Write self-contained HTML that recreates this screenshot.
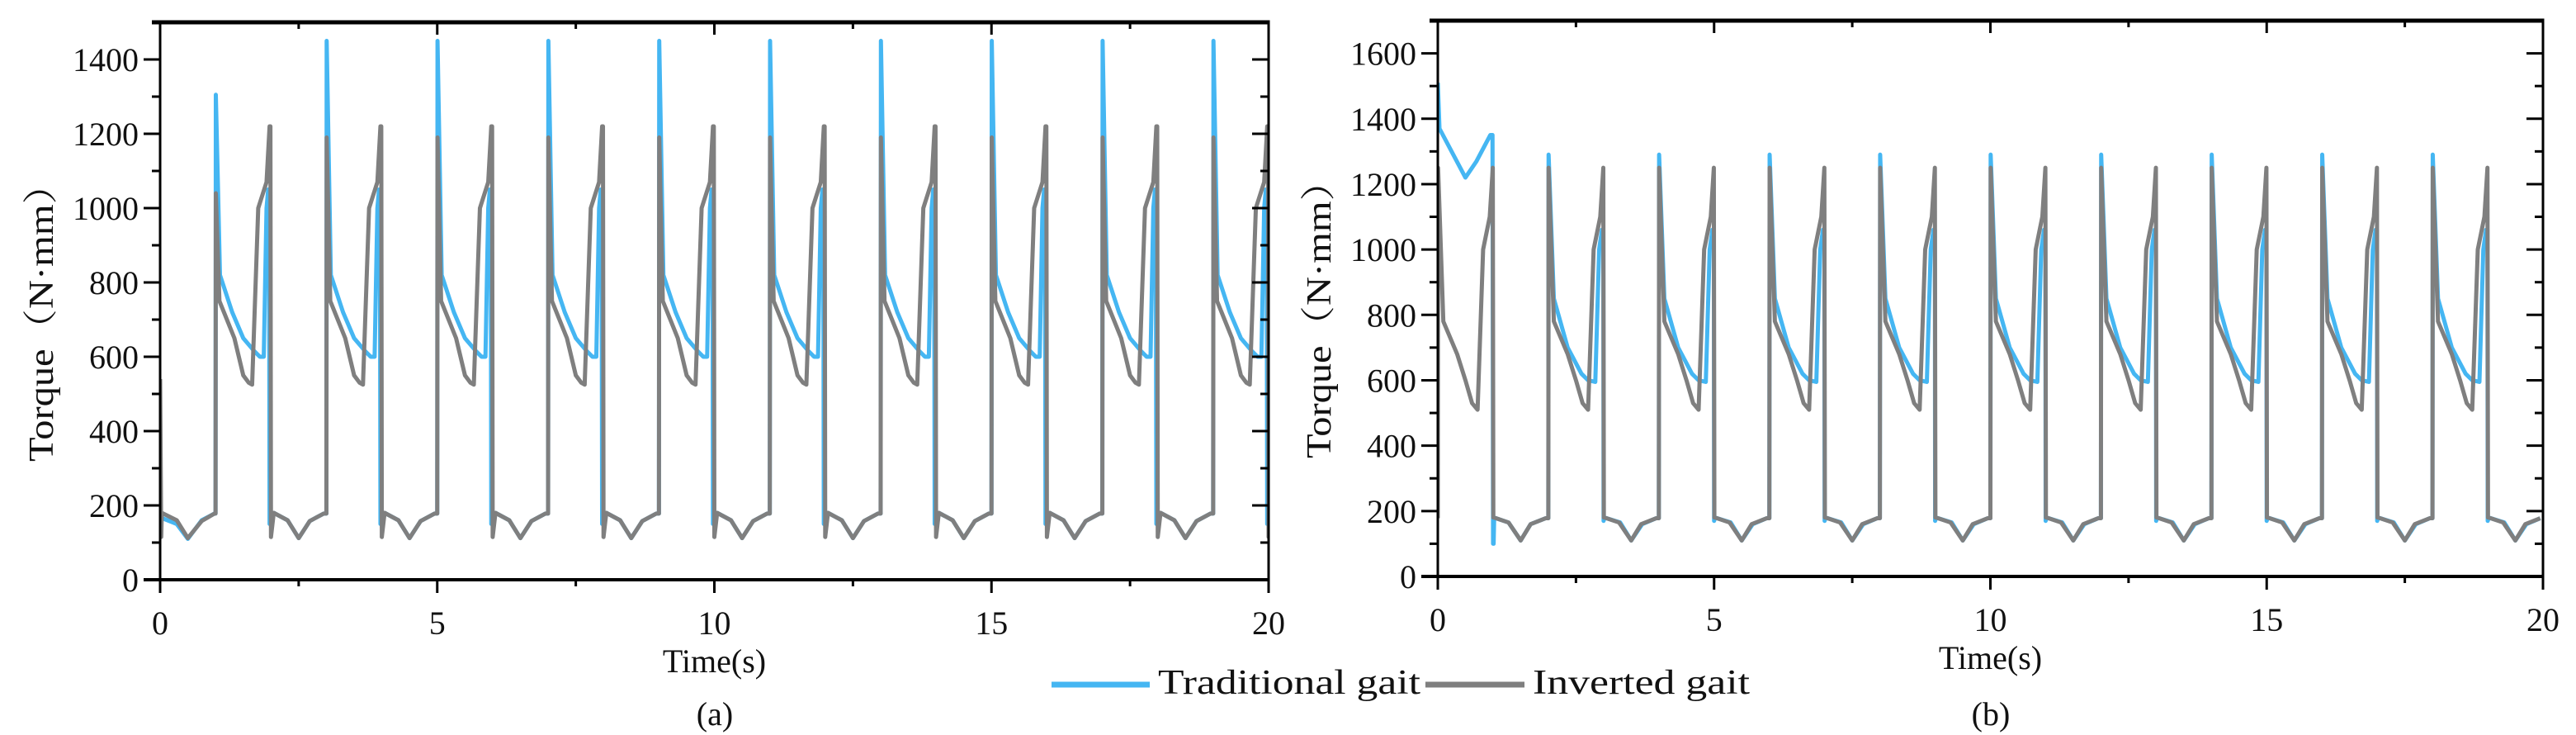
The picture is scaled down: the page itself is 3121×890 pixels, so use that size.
<!DOCTYPE html>
<html><head><meta charset="utf-8"><style>
html,body{margin:0;padding:0;background:#fff;}
svg{display:block;}
text{font-family:"Liberation Serif","Noto Serif CJK SC",serif;fill:#111;}
</style></head><body>
<svg id="fig" width="3121" height="890" viewBox="0 0 3121 890" xmlns="http://www.w3.org/2000/svg">
<defs>
<clipPath id="clipA"><rect x="193" y="20" width="1344" height="690"/></clipPath>
<clipPath id="clipB"><rect x="1742" y="18" width="1339" height="688"/></clipPath>
</defs>
<g id="chartA"></g>
<g id="chartB"></g>
<g>
<line x1="1274" y1="829" x2="1393" y2="829" stroke="#45b6f2" stroke-width="7"/>
<text x="1403" y="840" font-size="42" textLength="318" lengthAdjust="spacingAndGlyphs">Traditional gait</text>
<line x1="1727" y1="829" x2="1847" y2="829" stroke="#7f7f7f" stroke-width="7"/>
<text x="1857" y="840" font-size="42" textLength="263" lengthAdjust="spacingAndGlyphs">Inverted gait</text>
</g>
<text x="866" y="878" font-size="40" text-anchor="middle">(a)</text>
<text x="2412" y="878" font-size="40" text-anchor="middle">(b)</text>
</svg>
<script>
// ---- data: chart (a) ----
const ticksXA = [0,5,10,15,20];
const ticksYA = [0,200,400,600,800,1000,1200,1400];
const blueInitA_t = [0,0.05,0.3,0.5,0.75,0.98];
const blueInitA_v = [170,165,150,110,160,178];
const grayInitA_t = [0,0.02,0.03,0.3,0.5,0.75,0.98];
const grayInitA_v = [540,115,180,160,112,158,178];
const cycleStartsA = [1,3,5,7,9,11,13,15,17,19];
const bluePeaksA = [1305,1450,1450,1450,1450,1450,1450,1450,1450,1450];
const grayPeaksA = [1040,1190,1190,1190,1190,1190,1190,1190,1190,1190];
const blueCycA_dt = [0,0.005,0.08,0.3,0.5,0.7,0.8,0.87,0.92,0.95,0.965,0.975,1.05,1.3,1.5,1.7,1.95];
const blueCycA_v  = [178,null,820,720,650,615,600,600,1000,1050,1050,150,180,160,112,158,178];
const grayCycA_dt = [0,0.005,0.07,0.34,0.5,0.6,0.66,0.77,0.92,0.975,0.99,1.0,1.05,1.3,1.5,1.7,1.95];
const grayCycA_v  = [178,null,750,650,550,530,525,1000,1070,1220,1220,115,180,160,112,158,178];
// ---- data: chart (b) ----
const ticksXB = [0,5,10,15,20];
const ticksYB = [0,200,400,600,800,1000,1200,1400,1600];
const blueInitB_t = [0,0.03,0.5,0.7,0.95,0.99,1.0,1.01,1.02,1.28,1.5,1.68,1.95];
const blueInitB_v = [1510,1370,1220,1270,1350,1350,100,100,180,165,110,160,178];
const cycleStartsB = [0,2,4,6,8,10,12,14,16,18];
const bluePeaksB = [null,1290,1290,1290,1290,1290,1290,1290,1290,1290];
const grayPeaksB = [1250,1250,1250,1250,1250,1250,1250,1250,1250,1250];
const blueCycB_dt = [0,0.005,0.1,0.35,0.6,0.72,0.85,0.92,0.97,0.995,1.0,1.02,1.3,1.5,1.7,1.95];
const blueCycB_v  = [178,null,850,700,620,600,595,1000,1060,1060,170,180,165,110,160,178];
const grayCycB_dt = [0,0.005,0.1,0.35,0.5,0.62,0.72,0.82,0.94,0.995,1.005,1.02,1.28,1.5,1.68,1.95];
const grayCycB_v  = [178,null,780,680,600,530,510,1000,1100,1250,180,180,165,110,160,178];

const NS='http://www.w3.org/2000/svg';
function mk(tag,attrs,parent){const e=document.createElementNS(NS,tag);for(const k in attrs)e.setAttribute(k,attrs[k]);parent.appendChild(e);return e;}

function buildSeries(initT,initV,starts,peaks,cdt,cv){
  const pts=[];
  for(let i=0;i<initT.length;i++)pts.push([initT[i],initV[i]]);
  starts.forEach((s,k)=>{
    if(peaks[k]===null) return;
    for(let i=0;i<cdt.length;i++){pts.push([s+cdt[i], cv[i]===null?peaks[k]:cv[i]]);}
  });
  return pts;
}

function drawChart(g,cfg){
  const {x0,x1,y0,yTop,ymax,ticksX,ticksY,clip,series}=cfg;
  const xs=t=>x0+t*(x1-x0)/20;
  const ys=v=>y0-v*(y0-yTop)/ymax;
  const sg=mk('g',{'clip-path':'url(#'+clip+')'},g);
  series.forEach(s=>{
    const p=mk('polyline',{points:s.pts.map(q=>xs(q[0]).toFixed(2)+','+ys(q[1]).toFixed(2)).join(' '),fill:'none',stroke:s.color,'stroke-width':5,'stroke-linejoin':'round'},sg);
    
    
  });
  mk('line',{x1:x0,y1:yTop,x2:x0,y2:y0,stroke:'#000','stroke-width':3},g);
  mk('line',{x1:x1,y1:yTop,x2:x1,y2:y0,stroke:'#000','stroke-width':3},g);
  mk('line',{x1:x0-10,y1:yTop,x2:x1+1.5,y2:yTop,stroke:'#000','stroke-width':5},g);
  const ax=mk('line',{x1:x0-20,y1:y0,x2:x1+1.5,y2:y0,stroke:'#000','stroke-width':4},g);
  
  
  for(let t=0;t<=20;t+=2.5){
    const major=ticksX.includes(t);
    mk('line',{x1:xs(t),y1:y0,x2:xs(t),y2:y0+(major?16:8),stroke:'#000','stroke-width':3},g);
    mk('line',{x1:xs(t),y1:yTop,x2:xs(t),y2:yTop+(major?15:8),stroke:'#000','stroke-width':3},g);
  }
  ticksX.forEach(t=>{
    const tx=mk('text',{x:xs(t),y:y0+66,'font-size':40,'text-anchor':'middle'},g);
    tx.textContent=t;
    
    
  });
  for(let v=0;v<=ymax;v+=100){
    const major=ticksY.includes(v);
    const L=major?20:10;
    mk('line',{x1:x0,y1:ys(v),x2:x0-L,y2:ys(v),stroke:'#000','stroke-width':3},g);
    mk('line',{x1:x1,y1:ys(v),x2:x1-L,y2:ys(v),stroke:'#000','stroke-width':3},g);
  }
  ticksY.forEach(v=>{
    const tx=mk('text',{x:x0-26,y:ys(v)+14,'font-size':40,'text-anchor':'end'},g);
    tx.textContent=v;
    
    
  });
  const xt=mk('text',{x:(x0+x1)/2,y:y0+112,'font-size':40,'text-anchor':'middle'},g);
  xt.textContent='Time(s)';
  
  
  const yt=mk('text',{x:0,y:0,'font-size':42,'text-anchor':'middle',textLength:360,lengthAdjust:'spacingAndGlyphs',transform:'translate('+cfg.ytx+','+cfg.yty+') rotate(-90)'},g);
  yt.textContent='Torque（N·mm）';
  
  
}

const blueA=buildSeries(blueInitA_t,blueInitA_v,cycleStartsA,bluePeaksA,blueCycA_dt,blueCycA_v);
const grayA=buildSeries(grayInitA_t,grayInitA_v,cycleStartsA,grayPeaksA,grayCycA_dt,grayCycA_v);
const blueB=buildSeries(blueInitB_t,blueInitB_v,cycleStartsB,bluePeaksB,blueCycB_dt,blueCycB_v);
const grayB=buildSeries([],[],cycleStartsB,grayPeaksB,grayCycB_dt,grayCycB_v);

drawChart(document.getElementById('chartA'),{x0:194,x1:1537,y0:702,yTop:27,ymax:1500,ticksX:ticksXA,ticksY:ticksYA,clip:'clipA',ytx:64,yty:379,
  series:[{pts:blueA,color:'#45b6f2',name:'traditional-gait-line-a'},{pts:grayA,color:'#7f7f7f',name:'inverted-gait-line-a'}]});
drawChart(document.getElementById('chartB'),{x0:1742,x1:3081,y0:698,yTop:25,ymax:1700,ticksX:ticksXB,ticksY:ticksYB,clip:'clipB',ytx:1612,yty:375,
  series:[{pts:blueB,color:'#45b6f2',name:'traditional-gait-line-b'},{pts:grayB,color:'#7f7f7f',name:'inverted-gait-line-b'}]});
</script>
</body></html>
